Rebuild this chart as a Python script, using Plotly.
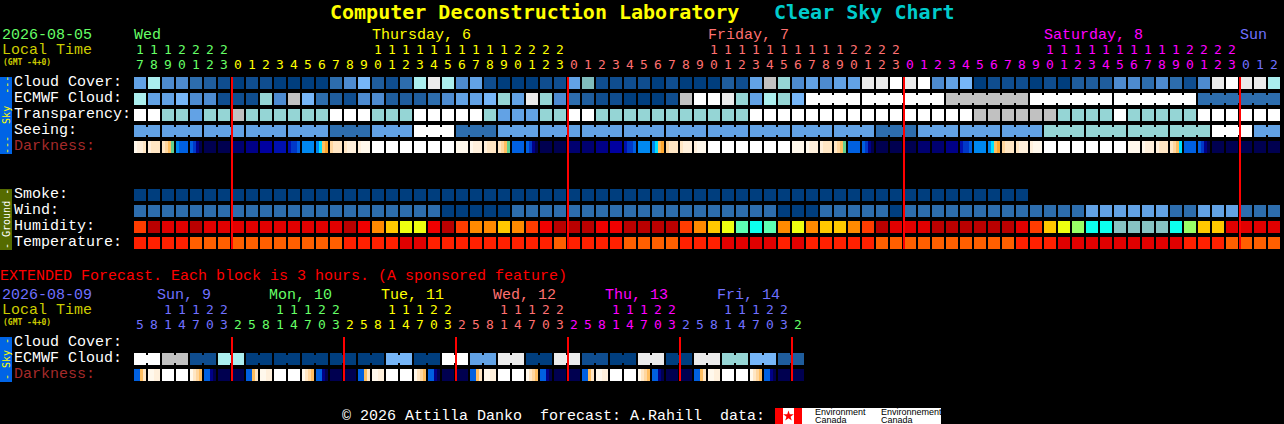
import plotly.graph_objects as go

# ---------- data ----------
cloud_cover = [5,8,4,4,3,2,1,0,1,1, 0,0,0,0,3,4,6,2,1,3, 8,10,8,4,5,1,0,0,0,1,
               1,5,12,1,1,1,1,0,1,0, 0,0,2,1,5,9,7,4,5,4, 5,5,10,10,11,10,11,4,5,6,
               0,1,1,1,0,1,0,2,2,2, 4,4,3,4,3,1,4,10,11,10,10,8]
ecmwf_hourly = [8,5,5,6,4,4,1,1,1,7, 4,9,6,3,2,1,4,4,2,2, 2,3,4,5,5,6,7,5,10,7,
                4,3,2,1,1,0,0,0,1,9, 11,11,10,7,5,8,7,6]
ecmwf_block_values = [11,11,9,11,11,3]
ecmwf_block_sizes = [4,6,6,6,6,6]
transparency = [11,11,7,7,5,7,7,9,7,7, 7,7,7,7,11,11,11,7,7,7, 11,11,11,11,11,7,5,5,5,7,
                7,11,11,7,7,7,7,7,7,7, 7,7,7,7,11,11,11,11,11,11, 11,11,11,11,11,11,11,11,11,11,
                9,9,9,9,9,9,7,7,7,7, 11,7,7,7,7,7,11,11,11,11,11,11]
seeing_block_values = [5,5,5,5,5,3,5,11,3,5,5,5,5,5,5,5,5,5,3,5,5,5,7,7,7,7,11,5]
seeing_block_sizes = [2,3,3,3,3,3,3,3,3,3,3,3,3,3,3,3,3,3,3,3,3,3,3,3,3,3,3,2]
darkness = ["abbc","bccc","cdeg","BMMM","MLJn","nnnn","nnnn","KKKK","JJJJ","IIII",
            "HHHH","HLLM","BBBB","BCef","dccc","cbbb","baaa","WWWW","WWWW","WWWW",
            "WWWW","WWWW","WWWW","aaaa","abbb","bccc","cdeg","MMMM","MLJn","nnnn",
            "nnnn","KKKK","KKKK","JJJJ","IIII","HLLM","BBBB","BCef","dccc","cbbb",
            "baaa","WWWW","WWWW","WWWW","WWWW","WWWW","WWWW","aaaa","abbb","bccc",
            "cdeg","MMMM","MLJn","nnnn","nnnn","nnnn","KKKK","KKKK","JJJJ","HLLM",
            "BBBB","BCef","dccc","cbbb","baaa","WWWW","WWWW","WWWW","WWWW","WWWW",
            "WWWW","aaaa","abbb","bccc","cdeC","MMMM","MLJn","nnnn","nnnn","nnnn",
            "nnnn","nnnn"]
smoke = [0,0,0,0,0,0,0,0,0,0, 0,0,0,0,0,0,0,0,0,0, 0,0,0,0,0,0,0,0,0,0,
         0,0,0,0,0,0,0,0,0,0, 0,0,0,0,0,0,0,0,0,0, 0,0,0,0,0,0,0,0,0,0, 0,0,0,0]
wind = [3,3,3,3,3,3,3,3,3,3, 3,3,3,3,3,3,3,3,3,3, 3,3,0,0,0,0,0,3,3,3,
        3,3,3,3,3,3,3,3,3,3, 3,3,3,3,3,3,0,0,0,3, 3,3,3,3,0,3,3,3,3,3,
        3,3,3,3,3,3,3,3,5,5, 5,5,5,5,3,3,5,5,5,3,3,3]
humidity = [4,1,2,2,1,2,2,2,2,2, 2,2,2,2,2,1,3,5,6,7, 7,3,1,4,5,5,6,5,4,3,
            1,1,1,3,3,1,1,1,1,4, 5,6,7,9,10,9,5,7,5,6, 6,5,4,1,2,2,2,1,1,1,
            1,1,1,2,4,6,7,8,10,10, 11,11,11,11,10,8,6,6,2,2,2,2]
temperature = [1,1,1,1,2,2,2,2,2,2, 2,2,2,2,2,1,1,1,1,3, 3,1,1,1,1,1,1,1,1,1,
               2,1,1,1,1,2,2,2,2,1, 1,1,3,3,3,3,1,3,1,1, 1,1,1,2,2,2,2,2,2,2,
               2,2,2,1,1,1,3,3,3,3, 3,3,3,3,3,1,1,1,2,2,2,2]
start_hour = 17
day_names = ["Wed", "Thursday, 6", "Friday, 7", "Saturday, 8", "Sun"]
day_label_cols = [0, 17, 41, 65, 79]
day_first_cols = [0, 7, 31, 55, 79]
day_colors = ["#66FF66", "#FFFF00", "#FF7070", "#FF00FF", "#7070FF"]
midnights = [7, 31, 55, 79]

ext_ecmwf_values = [11,9,1,8,0,0,0,0,0,6,0,11,5,10,0,10,1,0,10,0,10,7,6,2]
ext_ecmwf_sizes = [2,2,2,2,2,2,2,2,2,2,2,2,2,2,2,2,2,2,2,2,2,2,2,2]
ext_darkness = ["MMec","aabb","WWWW","WWWW","acde","MMJn","nnnn","nnnn",
                "MMec","aabb","WWWW","WWWW","acde","MMJn","nnnn","nnnn",
                "MMec","aabb","WWWW","WWWW","acde","MMJn","nnnn","nnnn",
                "MMec","aabb","WWWW","WWWW","acde","MMJn","nnnn","nnnn",
                "MMec","aabb","WWWW","WWWW","acde","MMJn","nnnn","nnnn",
                "MMec","aabb","WWWW","WWWW","acde","MMJn","nnnn","nnnn"]
ext_hours = [5,8,11,14,17,20,23, 2,5,8,11,14,17,20,23, 2,5,8,11,14,17,20,23, 2,5,8,11,14,17,20,23,
             2,5,8,11,14,17,20,23, 2,5,8,11,14,17,20,23, 2]
ext_day_names = ["Sun, 9", "Mon, 10", "Tue, 11", "Wed, 12", "Thu, 13", "Fri, 14"]
ext_first_cols = [0, 7, 15, 23, 31, 39, 47]
ext_colors = ["#7070FF", "#66FF66", "#FFFF00", "#FF7070", "#FF00FF", "#7070FF", "#66FF66"]
ext_midnights = [7, 15, 23, 31, 39, 47]

# ---------- palettes ----------
SKY = ["#003E7E","#0F4D8F","#1F5D9D","#2D6DAD","#4D8BD0","#62A2E5","#76B6F8",
       "#95D5D5","#ABEEEE","#C1C1C1","#EBEBEB","#FFFFFF","#80BDBD"]
HUM = ["#000000","#B90000","#E20000","#F00000","#FF3C00","#FF8A00","#FFC800",
       "#EEFF10","#99FF66","#5CFFB4","#0CFFEE","#87C3C3"]
TEMP = ["#000000","#FF2000","#FF5F00","#E00000"]
DARK = {"W":"#FFFFFF","a":"#FFF8EC","b":"#FFF0DC","c":"#FFE6C4","d":"#FFD69E","e":"#FFBE60",
        "f":"#FFA830","g":"#60D090","C":"#00E0FF","B":"#0088F0","M":"#0060E0","L":"#0038C8",
        "H":"#0010B0","I":"#0000A0","J":"#000088","K":"#000070","n":"#000050"}
DARK_KEYS = list(DARK)
DARK_COLORS = list(DARK.values())

FONT = "Liberation Mono"
DIGIT_FONT = "DejaVu Sans Mono"


def X(px):
    return (px - 140) / 14


def Y(py):
    return (py - 83) / 16


def steps(colors):
    n = len(colors)
    out = []
    for k, c in enumerate(colors):
        out += [[k / n, c], [(k + 1) / n, c]]
    return out


def expand(values, sizes):
    out = []
    for v, s in zip(values, sizes):
        out += [v] * s
    return out


fig = go.Figure()


def row(values, y, palette):
    fig.add_trace(go.Heatmap(
        z=[[v + 0.5 for v in values]], x0=0, dx=1, y=[y - 6 / 16, y + 6 / 16], xgap=2,
        colorscale=steps(palette), zmin=0, zmax=len(palette),
        showscale=False, hoverinfo="skip"))


def blocks(values, sizes, y, palette, first=0):
    edges, z = [], []
    col = first
    for v, s in zip(values, sizes):
        edges += [col - 6 / 14, col + s - 1 + 6 / 14]
        z += [v + 0.5, None]
        col += s
    fig.add_trace(go.Heatmap(
        z=[z[:-1]], x=edges, y=[y - 4 / 16, y + 4 / 16],
        colorscale=steps(palette), zmin=0, zmax=len(palette),
        showscale=False, hoverinfo="skip"))


def strips(cells, y):
    edges, z = [], []
    for i, cell in enumerate(cells):
        for k, ch in enumerate(cell):
            edges.append(i + (k * 3 - 6) / 14)
            z.append(DARK_KEYS.index(ch) + 0.5)
        edges.append(i + 6 / 14)
        z.append(None)
    fig.add_trace(go.Heatmap(
        z=[z[:-1]], x=edges, y=[y - 6 / 16, y + 6 / 16],
        colorscale=steps(DARK_COLORS), zmin=0, zmax=len(DARK_COLORS),
        showscale=False, hoverinfo="skip"))


# main chart rows
row(cloud_cover, 0, SKY)
row(ecmwf_hourly + expand(ecmwf_block_values, ecmwf_block_sizes), 1, SKY)
blocks(ecmwf_block_values, ecmwf_block_sizes, 1, SKY, first=len(ecmwf_hourly))
row(transparency, 2, SKY)
row(expand(seeing_block_values, seeing_block_sizes), 3, SKY)
blocks(seeing_block_values, seeing_block_sizes, 3, SKY)
strips(darkness, 4)
row(smoke, 7, SKY)
row(wind, 8, SKY)
row(humidity, 9, HUM)
row(temperature, 10, TEMP)

# extended rows
EXT_CLOUD, EXT_ECMWF, EXT_DARK = 16.25, 17.25, 18.25
row(expand(ext_ecmwf_values, ext_ecmwf_sizes), EXT_ECMWF, SKY)
blocks(ext_ecmwf_values, ext_ecmwf_sizes, EXT_ECMWF, SKY)
strips(ext_darkness, EXT_DARK)

# midnight lines
LINE_OFFSET = -3 / 7
lx, ly = [], []
for m in midnights:
    lx += [m + LINE_OFFSET, m + LINE_OFFSET, None]
    ly += [Y(77), Y(249), None]
for m in ext_midnights:
    lx += [m + LINE_OFFSET, m + LINE_OFFSET, None]
    ly += [Y(337), Y(381), None]
fig.add_trace(go.Scatter(x=lx, y=ly, mode="lines", line=dict(color="#FF0000", width=2),
                         hoverinfo="skip", showlegend=False))


def color_for(i, firsts, colors):
    c = colors[0]
    for f, col in zip(firsts, colors):
        if i >= f:
            c = col
    return c


# hour digits
n_cols = len(cloud_cover)
hours = [(start_hour + i) % 24 for i in range(n_cols)]


def digits(hrs, firsts, colors, y_tens, y_units):
    idx = list(range(len(hrs)))
    cols = [color_for(i, firsts, colors) for i in idx]
    tens = [i for i in idx if hrs[i] >= 10]
    fig.add_trace(go.Scatter(
        x=tens, y=[y_tens] * len(tens), mode="text", text=[str(hrs[i] // 10) for i in tens],
        textfont=dict(family=DIGIT_FONT, size=13, color=[cols[i] for i in tens]),
        textposition="middle center", hoverinfo="skip", showlegend=False))
    fig.add_trace(go.Scatter(
        x=idx, y=[y_units] * len(idx), mode="text", text=[str(h % 10) for h in hrs],
        textfont=dict(family=DIGIT_FONT, size=13, color=cols),
        textposition="middle center", hoverinfo="skip", showlegend=False))


digits(hours, day_first_cols, day_colors, Y(51), Y(66))
digits(ext_hours, ext_first_cols, ext_colors, Y(311), Y(326))

ann = []


def text(s, px, py, color="#FFFFFF", size=15, bold=False, family=FONT, angle=0, anchor="left"):
    ann.append(dict(text=("<b>%s</b>" % s) if bold else s, x=X(px), y=Y(py), xref="x", yref="y",
                    xanchor=anchor, yanchor="middle", showarrow=False, borderpad=0, borderwidth=0,
                    textangle=angle, font=dict(family=family, size=size, color=color)))


text("Computer Deconstruction Laboratory", 330, 12, "#FFFF00", 20, True, "DejaVu Sans Mono")
text("Clear Sky Chart", 774, 12, "#00CCCC", 20, True, "DejaVu Sans Mono")
text("2026-08-05", 2, 35, "#66FF66")
text("Local Time", 2, 50, "#CCCC00")
text("(GMT -4+0)", 3, 62, "#CCCC00", 8, True, "DejaVu Sans Mono")
for name, col, c in zip(day_names, day_label_cols, day_colors):
    text(name, 134 + 14 * col, 35, c)
for s, py in [("Cloud Cover:", 82), ("ECMWF Cloud:", 98), ("Transparency:", 114), ("Seeing:", 130),
              ("Smoke:", 194), ("Wind:", 210), ("Humidity:", 226), ("Temperature:", 242)]:
    text(s, 14, py)
text("Darkness:", 14, 146, "#A52A2A")
text("EXTENDED Forecast. Each block is 3 hours. (A sponsored feature)", 0, 276, "#FF0000")
text("2026-08-09", 2, 295.5, "#7070FF")
text("Local Time", 2, 310.5, "#CCCC00")
text("(GMT -4+0)", 3, 322, "#CCCC00", 8, True, "DejaVu Sans Mono")
for k, name in enumerate(ext_day_names):
    text(name, 157 + 112 * k, 295.5, ext_colors[k])
text("Cloud Cover:", 14, 342)
text("ECMWF Cloud:", 14, 358)
text("Darkness:", 14, 374, "#A52A2A")
text("© 2026 Attilla Danko  forecast: A.Rahill  data:", 342, 416)

# side bars text
text("---  Sky  ---", 6, 115, "#FFFF00", 10, family="DejaVu Sans Mono", angle=-90, anchor="center")
text("- Ground -", 6, 219, "#FFFFFF", 10, family="DejaVu Sans Mono", angle=-90, anchor="center")
text("- Sky -", 6, 359, "#FFFF00", 10, family="DejaVu Sans Mono", angle=-90, anchor="center")

# logo texts
text("Environment", 815, 411.5, "#000000", 9, family="Liberation Sans")
text("Canada", 815, 420, "#000000", 9, family="Liberation Sans")
text("Environnement", 881, 411.5, "#000000", 9, family="Liberation Sans")
text("Canada", 881, 420, "#000000", 9, family="Liberation Sans")

fig.add_trace(go.Scatter(x=[X(788.5)], y=[Y(416)], mode="markers",
                         marker=dict(symbol="star", size=8, color="#FF0000"),
                         hoverinfo="skip", showlegend=False))


def rect(x0, y0, x1, y1, color, layer="below"):
    return dict(type="rect", xref="x", yref="y", x0=X(x0), x1=X(x1), y0=Y(y0), y1=Y(y1),
                fillcolor=color, line=dict(width=0), layer=layer)


shapes = [rect(0, 77, 12, 154, "#0064E6"), rect(0, 189, 12, 250, "#556B00"),
          rect(0, 337, 12, 382, "#0064E6"),
          rect(775, 408, 941, 424, "#FFFFFF"), rect(775, 408, 783, 424, "#FF0000"),
          rect(794, 408, 802, 424, "#FF0000")]

fig.update_layout(
    width=1284, height=424, margin=dict(l=0, r=0, t=0, b=0),
    paper_bgcolor="#000000", plot_bgcolor="#000000", showlegend=False,
    xaxis=dict(range=[X(0), X(1284)], visible=False, fixedrange=True),
    yaxis=dict(range=[Y(424), Y(0)], visible=False, fixedrange=True),
    annotations=ann, shapes=shapes)

fig.write_html("out.html", config=dict(displayModeBar=False),
               post_script="document.body.style.margin='0';document.body.style.background='#000';document.body.style.overflow='hidden';")
